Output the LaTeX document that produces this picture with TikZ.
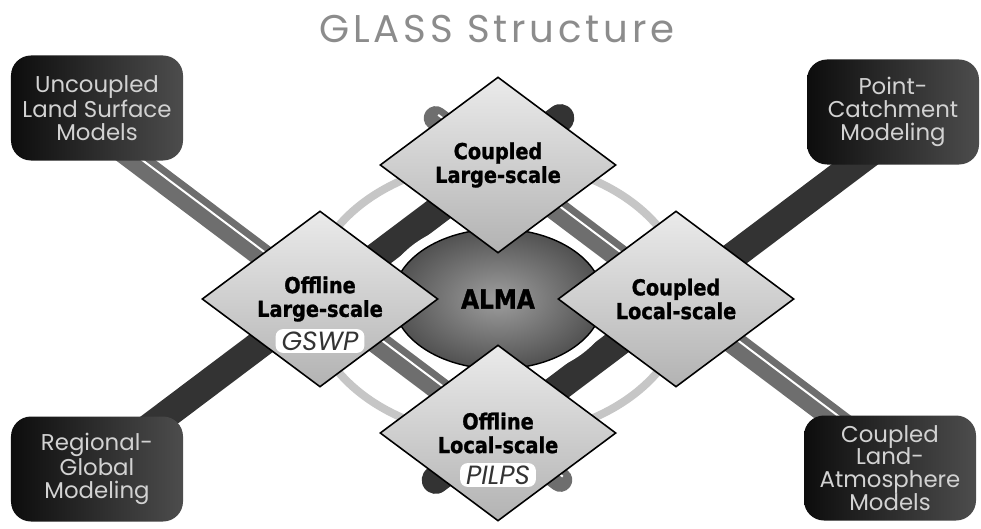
\documentclass[tikz,border=0pt]{standalone}
\usepackage{fontspec}
\setmainfont{Poppins}
\newfontfamily\heavyfont{DejaVu Sans}[FakeStretch=0.88, FakeBold=1.2]
\newfontfamily\titlefont{Poppins}[LetterSpace=10]
\usepackage{tikz}
\usetikzlibrary{shapes.geometric, positioning, calc}
\usepackage{xcolor}

\definecolor{bandgrey}{HTML}{6E6E6E}
\definecolor{banddark}{HTML}{333333}
\definecolor{ringgrey}{HTML}{C6C6C6}
\definecolor{titlegrey}{HTML}{8C8C8C}
\definecolor{boxtext}{HTML}{D2D2D2}

\pgfdeclarelayer{back}
\pgfsetlayers{back,main}

\begin{document}
\begin{tikzpicture}[
    x=0.2mm, y=-0.2mm,
    modelbox/.style={rectangle, rounded corners=4mm, minimum width=34.4mm, minimum height=21mm, inner sep=1pt, align=center, text=boxtext, font=\fontsize{13}{13}\selectfont, left color=black!95, right color=black!70},
    scalebox/.style={diamond, draw, line width=0.9pt, minimum width=47.2mm, minimum height=35.2mm, inner sep=0pt, align=center, font=\heavyfont\bfseries\fontsize{12.5}{13.5}\selectfont, top color=black!8, bottom color=black!30},
    projtag/.style={fill=white, rounded corners=1.5mm, inner xsep=1.2mm, inner ysep=0.5mm, font=\fontsize{15}{15}\selectfont\itshape, text=black!80},
    greyband/.style={draw=bandgrey, line width=4.8mm, line cap=round},
    darkband/.style={draw=banddark, line width=5.6mm, line cap=round},
    stripe/.style={draw=white, line width=0.4mm, transform canvas={shift={(0.5mm,0.65mm)}}}
]
\useasboundingbox (0,0) rectangle (981,529);

% title
\node[font=\titlefont\fontsize{22}{22}\selectfont, text=titlegrey] (title) at (497,29) {GLASS Structure};

% ALMA in the middle
\node[ellipse, minimum width=42mm, minimum height=28mm, inner color=black!38, outer color=black!68,
      draw=black, line width=0.8pt, preaction={draw=white, line width=4mm},
      font=\heavyfont\bfseries\fontsize{15}{15}\selectfont] (alma) at (498,299) {ALMA};

% the four scales
\node[scalebox] (cplarge) at (498,165) {Coupled\\Large-scale};
\node[scalebox] (offlarge) at (320,299) {Offline\\Large-scale};
\node[scalebox] (cplocal) at (676,299) {Coupled\\Local-scale};
\node[scalebox] (offlocal) at (498,433) {Offline\\Local-scale};

\node[projtag] (gswp) at ([yshift=-8.4mm]offlarge.center) {GSWP};
\node[projtag] (pilps) at ([yshift=-8.4mm]offlocal.center) {PILPS};

% model boxes in the corners
\node[modelbox] (uncoupled) at (97,108) {Uncoupled\\Land Surface\\Models};
\node[modelbox] (pointcat) at (893,112) {Point-\\Catchment\\Modeling};
\node[modelbox] (regglobal) at (97,469) {Regional-\\Global\\Modeling};
\node[modelbox] (coupledla) at (890,468) {Coupled\\Land-\\Atmosphere\\Models};

% band ends
\coordinate (g1a) at ($(offlarge.center)!-1.2!(offlocal.center)$);
\coordinate (g1b) at ($(offlocal.center)!-0.35!(offlarge.center)$);
\coordinate (g2a) at ($(cplarge.center)!-0.35!(cplocal.center)$);
\coordinate (g2b) at ($(cplocal.center)!-1.2!(cplarge.center)$);
\coordinate (d1a) at ($(offlarge.center)!-1.2!(cplarge.center)$);
\coordinate (d1b) at ($(cplarge.center)!-0.35!(offlarge.center)$);
\coordinate (d2a) at ($(offlocal.center)!-0.35!(cplocal.center)$);
\coordinate (d2b) at ($(cplocal.center)!-1.2!(offlocal.center)$);

\begin{pgfonlayer}{back}
% ring behind everything
\draw[ringgrey, line width=1.6mm] (alma.center) ellipse [x radius=37.6mm, y radius=27.6mm];

% bands
\draw[darkband] (d1a) -- (offlarge.center) -- (cplarge.center) -- (d1b);
\draw[darkband] (d2a) -- (offlocal.center) -- (cplocal.center) -- (d2b);
\draw[greyband] (g1a) -- (offlarge.center) -- (offlocal.center) -- (g1b);
\draw[stripe] (g1a) -- (g1b);
\draw[greyband] (g2a) -- (cplarge.center) -- (cplocal.center) -- (g2b);
\draw[stripe] (g2a) -- (g2b);
\end{pgfonlayer}

\end{tikzpicture}
\end{document}
